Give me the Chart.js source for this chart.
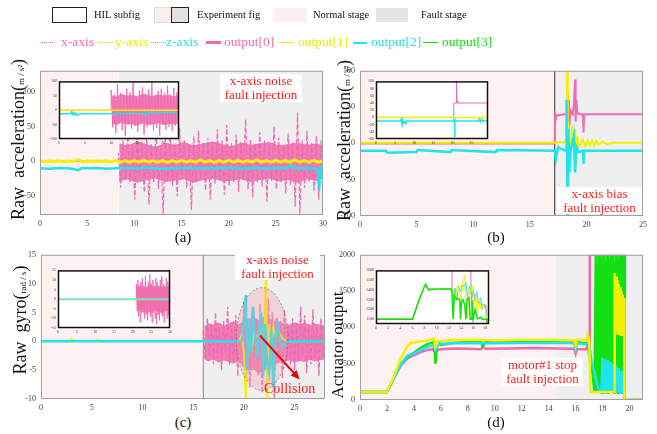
<!DOCTYPE html>
<html>
<head>
<meta charset="utf-8">
<script src="https://cdn.jsdelivr.net/npm/chart.js@4.4.1/dist/chart.umd.min.js"></script>
<style>
  body { margin: 0; background: #fff; }
  #page { position: relative; width: 657px; height: 434px; overflow: hidden; font-family: 'Liberation Serif', 'Times New Roman', serif; }
  canvas { position: absolute; }
  .lg { position: absolute; top: 7px; font-size: 10.5px; line-height: 16px; color: #111; white-space: nowrap; }
  .lg2 { position: absolute; top: 34px; font-size: 13.5px; line-height: 16px; white-space: nowrap; }
  .sw { position: absolute; box-sizing: border-box; }
  .smp { position: absolute; height: 0; }
  .note { position: absolute; background: #fff; color: #ff1a1a; font-size: 13px; line-height: 14px; text-align: center; white-space: nowrap; }
  .tag { position: absolute; width: 30px; font-size: 15px; line-height: 18px; text-align: center; color: #111; }
  .ytitle { position: absolute; height: 20px; font-size: 18px; line-height: 20px; text-align: center; white-space: nowrap; transform: rotate(-90deg); color: #111; }
  .ytitle small { font-size: 9px; }
</style>
</head>
<body>
<div id="page">
  <canvas id="chartA"></canvas>
  <canvas id="chartB"></canvas>
  <canvas id="chartC"></canvas>
  <canvas id="chartD"></canvas>
  <canvas id="insetA"></canvas>
  <canvas id="insetB"></canvas>
  <canvas id="insetC"></canvas>
  <canvas id="insetD"></canvas>

  <!-- legend, row 1 -->
  <div class="sw" style="left:52px;top:7px;width:35px;height:16px;border:1.5px solid #222;background:#fff"></div>
  <div class="lg" style="left:94px">HIL subfig</div>
  <div class="sw" style="left:154px;top:7px;width:18px;height:16px;border:1px solid #ddd;background:#fdeeee"></div>
  <div class="sw" style="left:171px;top:7px;width:18px;height:16px;border:1.5px solid #222;background:#e2e2e2"></div>
  <div class="lg" style="left:197px">Experiment fig</div>
  <div class="sw" style="left:274px;top:8px;width:33px;height:14px;background:#fdf0f0"></div>
  <div class="lg" style="left:313px">Normal stage</div>
  <div class="sw" style="left:376px;top:8px;width:32px;height:14px;background:#e4e4e4"></div>
  <div class="lg" style="left:421px">Fault stage</div>

  <!-- legend, row 2 -->
  <div class="smp" style="left:41px;top:42px;width:12px;border-top:1.5px dotted #f06aae"></div>
  <div class="lg2" style="left:61px;color:#f06aae">x-axis</div>
  <div class="smp" style="left:99px;top:42px;width:15px;border-top:1px dashed #eeea00"></div>
  <div class="lg2" style="left:115px;color:#eeea00">y-axis</div>
  <div class="smp" style="left:151px;top:42px;width:15px;border-top:1.5px dotted #1fe3ee"></div>
  <div class="lg2" style="left:166px;color:#1fe3ee">z-axis</div>
  <div class="smp" style="left:206px;top:41px;width:15px;border-top:3px solid #f06aae"></div>
  <div class="lg2" style="left:224px;color:#f06aae">output[0]</div>
  <div class="smp" style="left:279px;top:42px;width:15px;border-top:1.5px solid #eeea00"></div>
  <div class="lg2" style="left:298px;color:#eeea00">output[1]</div>
  <div class="smp" style="left:353px;top:42px;width:14px;border-top:2px solid #1fe3ee"></div>
  <div class="lg2" style="left:371px;color:#1fe3ee">output[2]</div>
  <div class="smp" style="left:423px;top:42px;width:15px;border-top:1.5px solid #12d812"></div>
  <div class="lg2" style="left:442px;color:#12d812">output[3]</div>

  <!-- axis titles -->
  <div class="ytitle" style="left:-62px;top:130px;width:160px">Raw&nbsp;&nbsp;acceleration(<small>m / s²</small>)</div>
  <div class="ytitle" style="left:264px;top:131px;width:160px">Raw&nbsp;&nbsp;acceleration(<small>m / s²</small>)</div>
  <div class="ytitle" style="left:-40px;top:310px;width:120px">Raw&nbsp;&nbsp;gyro(<small>rad / s</small>)</div>
  <div class="ytitle" style="left:278px;top:335px;width:120px;font-size:17px">Actuator output</div>

  <!-- fault notes -->
  <div class="note" style="left:220px;top:74px;width:82px;height:28px">x-axis noise<br>fault injection</div>
  <div class="note" style="left:557px;top:187px;width:85px;height:27px">x-axis bias<br>fault injection</div>
  <div class="note" style="left:235px;top:253px;width:85px;height:27px">x-axis noise<br>fault injection</div>
  <div class="note" style="left:502px;top:358px;width:81px;height:28px">motor#1 stop<br>fault injection</div>
  <div class="note" style="left:264px;top:382px;background:none;font-size:14px">Collision</div>

  <!-- sub-figure tags -->
  <div class="tag" style="left:168px;top:228px">(a)</div>
  <div class="tag" style="left:481px;top:228px">(b)</div>
  <div class="tag" style="left:168px;top:413px">(c)</div>
  <div class="tag" style="left:481px;top:413px">(d)</div>
</div>

<script>
// colours
const PINK = '#f06aae';
const PINK_CORE = 'rgba(240, 106, 174, 0.85)';
const YELLOW = '#f5f000';
const CYAN = '#1fe3ee';
const GREEN = '#12e012';
const MINT = '#7fe9b4';

// ---------- (a) raw acceleration, x-axis noise fault ----------
const aFaultStart = 8.3;
const aXQuietTime = [0, 8.3];
const aXQuiet = [0, 0];
// spikes of the noisy x-axis signal
const aXNoiseStart = 8.3, aXNoiseStep = 0.25;
const aXNoise = [12, -38, 30, -25, 42, -30, 22, -55, 35, -20,
  28, -45, 38, -62, 25, -30, 45, -40, 20, -76,
  32, -28, 40, -35, 26, -50, 48, -22, 30, -38,
  22, -70, 36, -30, 44, -25, 28, -42, 34, -55,
  24, -32, 46, -28, 30, -48, 52, -35, 26, -30,
  38, -44, 28, -26, 60, -40, 32, -52, 24, -30,
  42, -36, 30, -58, 26, -28, 50, -40, 34, -30,
  22, -46, 40, -34, 28, -65, 70, -76, 30, -38,
  44, -30, 26, -42, 36, -55, 30, -20];
// dense core band of the same signal (upper / lower edge, 1 s apart)
const aCoreTime = [8.4, 9.3, 10.3, 11.3, 12.3, 13.3, 14.3, 15.3, 16.3, 17.3, 18.3, 19.3, 20.3, 21.3, 22.3, 23.3, 24.3, 25.3, 26.3, 27.3, 28.3, 29.3, 30];
const aCoreHi = [25, 22, 28, 24, 20, 26, 23, 27, 22, 25, 28, 24, 21, 26, 23, 25, 27, 22, 24, 26, 23, 25, 22];
const aCoreLo = [-28, -25, -30, -26, -24, -29, -27, -25, -30, -26, -24, -28, -27, -25, -29, -26, -24, -28, -26, -30, -25, -27, -24];
const aYStart = 0, aYStep = 0.5;
const aY = [0.5, -0.3, 0.6, -0.3, 0.5, -0.5, 0.6, -0.3, 2.5, -0.5,
  0.6, 0, 0.6, -0.3, 0.6, -0.6, 1, -1.2, 1.2, -1,
  1.2, -1.2, 1.5, -1, 1.2, -1.2, 1, -1.5, 1.2, -1,
  1.5, -1.2, 1.2, -1, 2, -1.2, 1.2, -1.5, 1.2, -1,
  1.5, -1.2, 1, -1.2, 1.2, -1, 2, -1.2, 1.2, -1.2,
  1.5, -1, 1.2, -1.2, 2.5, -1.2, 1.2, -1, 1.5, -1.2, 0.6];
const aZTime = [0, 1, 2, 3, 3.6, 4, 4.4, 5, 6, 7, 8, 9, 10, 11, 12, 13, 14, 15, 16, 17, 18, 19, 20, 21, 22, 23, 24, 25, 26, 26.6, 27, 28, 29, 29.5, 29.6, 29.7, 29.8, 30];
const aZ = [-10, -10.5, -9.5, -10, -11, -13, -10, -10, -9.5, -10.5, -10, -9, -10.5, -9, -10, -11, -9.5, -10, -9, -10.5, -9.5, -10, -9, -10.5, -10, -9, -10.5, -9.5, -10, -6, -10, -9.5, -10, -12, -40, -15, -8, -9];

// (a) inset, HIL run
const aInYTime = [0, 23];
const aInY = [0, 0];
const aInZTime = [0, 2.2, 2.4, 2.6, 2.8, 3.0, 3.2, 3.5, 3.8, 4.2, 10, 10.6, 11, 16.4, 16.6, 17, 23];
const aInZ = [-12, -12, -6, -14, -7, -16, -10, -18, -14, -12, -12, -16, -11, -12, -20, -8, -8];
const aInXQuietTime = [0, 10];
const aInXQuiet = [0, 0];
const aInXNoiseStart = 10, aInXNoiseStep = 0.3;
const aInXNoise = [70, -60, 55, -80, 90, -45, 60, -70, 48, -90,
  75, -50, 62, -65, 100, -55, 50, -75, 68, -48,
  80, -85, 58, -60, 72, -52, 95, -70, 52, -62,
  66, -88, 74, -50, 60, -68, 85, -58, 54, -72,
  78, -55, 62, -40];
const aInCoreTime = [10.1, 11, 12, 13, 14, 15, 16, 17, 18, 19, 20, 21, 22, 23];
const aInCoreHi = [50, 45, 55, 48, 52, 46, 55, 50, 47, 53, 49, 51, 46, 50];
const aInCoreLo = [-45, -50, -42, -48, -46, -52, -44, -49, -47, -43, -50, -46, -48, -44];

// ---------- (b) raw acceleration, x-axis bias fault ----------
const bFaultStart = 17.2;
const bXTime = [0, 17.2, 17.25, 17.3, 18.0, 18.3, 18.35, 18.4, 18.45, 18.5, 18.6, 18.8, 18.9, 19.0, 19.05, 19.1, 19.2, 19.4, 19.7, 19.75, 19.8, 25];
const bX = [0, 0, 40, 38, 40, 40, 70, 15, 60, 25, 45, 40, 55, 88, 30, 60, 42, 40, 40, 15, 40, 40];
const bYTime = [0, 17.2, 17.5, 18.0, 18.25, 18.3, 18.35, 18.4, 18.5, 18.7, 18.8, 18.9, 19.0, 19.1, 19.2, 19.3, 19.5, 19.7, 19.9, 20.1, 20.3, 20.5, 20.7, 20.9, 21.1, 21.4, 21.8, 22.3, 25];
const bY = [1, 1, 2, 1, 5, 100, -50, 30, -20, 15, 25, -10, 20, -30, 10, -5, 0, 5, -4, 4, -3, 4, -3, 3, -2, 2, -1, 1, 1];
const bZTime = [0, 2.3, 2.4, 5, 5.1, 8, 8.1, 12, 12.1, 17.2, 17.3, 17.5, 17.8, 18.2, 18.25, 18.3, 18.35, 18.4, 18.5, 18.6, 18.9, 19.0, 19.1, 19.3, 19.7, 19.75, 19.8, 20.5, 25];
const bZ = [-10, -10, -13, -12, -9, -12, -9, -12, -9, -10, -22, -5, -8, -10, 60, -20, -100, 20, -40, -10, 10, -40, -5, -12, -10, -28, -10, -10, -10];

// (b) inset
const bInYTime = [0, 29.3];
const bInY = [0, 0];
const bInZTime = [0, 6.4, 6.6, 6.8, 7.0, 7.2, 7.5, 7.8, 8.0, 20.4, 20.5, 20.6, 20.65, 20.7, 20.8, 26.8, 27, 27.3, 27.6, 28, 28.3, 29.3];
const bInZ = [-10, -10, -4, -14, -6, -16, -12, -18, -10, -10, -2, -55, -10, -10, -10, -10, -5, -12, -5, -12, -8, -10];
const bInXTime = [0, 20.3, 20.35, 21.0, 21.05, 21.2, 21.4, 29.3];
const bInX = [0, 0, 40, 40, 100, 45, 40, 40];

// ---------- (c) raw gyro, x-axis noise fault + collision ----------
const cFaultStart = 16;
const cXQuietTime = [0, 16];
const cXQuiet = [0, 0];
const cXNoiseStart = 16, cXNoiseStep = 0.2;
const cXNoise = [2, -3, 4, -2.5, 3, -4, 5, -3, 2.5, -5,
  3.5, -2, 6, -4, 3, -3.5, 4.5, -6, 2.5, -3,
  7, -4.5, 3, -8, 5, -3, 4, -6, 6.5, -9,
  3, -5, 7.5, -4, 5, -10, 4, -3, 3.5, -6.5,
  5.5, -3, 2.5, -4, 4, -5, 3, -3.5, 6, -2.5,
  4.5, -5.5, 3, -4, 5.5, -3, 2.5, -6, 4, -3, 2];
const cCoreTime = [16.1, 16.5, 17, 17.5, 18, 18.5, 19, 19.5, 20, 20.5, 21, 21.5, 22, 22.5, 23, 23.5, 24, 24.5, 25, 25.5, 26, 26.5, 27, 27.5, 28];
const cCoreHi = [2.5, 3, 2.8, 3.2, 2.6, 3, 3.4, 2.8, 3.5, 3.8, 4, 3.6, 4.2, 3.8, 3.5, 3.2, 3, 2.8, 3.2, 2.9, 3.1, 2.7, 3, 2.8, 2.6];
const cCoreLo = [-3, -3.4, -3, -3.6, -3.2, -3.5, -3.8, -3.3, -4.5, -5, -4.8, -5.5, -5, -4.6, -4, -3.6, -3.4, -3.2, -3.6, -3.3, -3.5, -3.1, -3.4, -3.2, -3];
const cYTime = [0, 2.8, 3.0, 3.2, 5.4, 5.6, 5.8, 19.5, 19.8, 20.0, 20.2, 20.4, 20.6, 20.8, 21.0, 21.2, 21.4, 21.6, 21.8, 22.0, 22.2, 22.3, 22.5, 22.7, 22.9, 23.1, 23.3, 23.5, 23.8, 24.2, 28];
const cY = [0, 0, 0.4, 0, 0, 0.3, 0, 0, 1.2, -2, -10, 2, 0.5, -1, 1.5, 0.8, 1, 2.5, 0.5, -1.5, 15, -10, 3, -1, 2.5, 0.5, 2, 1.5, 0.5, 0, 0];
const cZTime = [0, 19.8, 20.0, 20.2, 20.3, 20.5, 20.7, 20.9, 21.1, 21.3, 21.5, 21.7, 21.9, 22.1, 22.3, 22.5, 22.7, 22.9, 23.1, 23.3, 23.5, 23.8, 24.2, 28];
const cZ = [0, 0, 3, 8, -5, 4, -2, 6, 1, -3, 2, 5, -6, 3, -4, -5.5, 2, -8, 1, 3, 0.5, -1, 0, 0];
const collisionZone = { x: 21.8, y: 0.4, rx: 2.55, ry: 8.9 };
const collisionArrow = { from: [21.6, 1.0], to: [25.5, -6.6] };

// (c) inset
const cInYZTime = [0, 30];
const cInYZ = [0, 0];
const cInXQuietTime = [0, 21];
const cInXQuiet = [0, 0];
const cInXNoiseStart = 21, cInXNoiseStep = 0.2;
const cInXNoise = [8, -6, 10, -9, 6, -12, 9, -7, 11, -5,
  7, -10, 12, -8, 6, -11, 9, -6, 13, -9,
  8, -12, 10, -7, 7, -10, 11, -13, 9, -8,
  6, -11, 10, -7, 12, -9, 8, -12, 7, -6,
  11, -10, 9, -8, 7, -11];
const cInCoreTime = [21.1, 22, 23, 24, 25, 26, 27, 28, 29, 30];
const cInCoreHi = [6, 7, 5.5, 6.5, 7, 6, 6.8, 5.8, 6.2, 6];
const cInCoreLo = [-6, -5.5, -7, -6.2, -6.8, -5.8, -6.5, -7, -6, -6.4];

// ---------- (d) actuator outputs, motor#1 stop ----------
const dFaultStart = 14.5;
const d0Time = [0, 2, 2.5, 3, 3.5, 4, 4.5, 5, 5.4, 5.6, 5.8, 6, 7, 8, 9, 9.1, 9.3, 11, 13, 14.5, 15.9, 16, 16.1, 16.8, 16.9, 17.0, 17.05, 19.6, 19.62, 21];
const d0 = [110, 110, 290, 470, 570, 620, 660, 690, 700, 650, 690, 700, 710, 705, 700, 740, 705, 710, 715, 710, 705, 640, 700, 700, 760, 700, 2000, 2000, 0, 0];
const d1Time = [0, 2, 2.5, 3, 3.5, 3.8, 4.2, 5, 5.5, 5.6, 5.8, 6, 7, 8, 9, 10, 12, 14, 15.9, 16, 16.1, 16.8, 16.9, 17.0, 17.1, 18.85,
  18.9, 18.95, 19.0, 19.05, 19.1, 19.15, 19.2, 19.25, 19.3, 19.35, 19.4, 19.45, 19.5, 19.55, 19.6, 19.62, 21];
const d1 = [110, 110, 320, 560, 740, 790, 800, 820, 850, 730, 820, 810, 830, 825, 830, 820, 830, 830, 820, 750, 830, 820, 900, 820, 110, 110,
  1750, 900, 1700, 950, 1650, 920, 1600, 900, 1550, 880, 1500, 900, 1450, 880, 1400, 0, 0];
const d2Time = [0, 2, 2.5, 3, 3.5, 4, 4.5, 5, 5.5, 5.6, 5.8, 6, 7, 8, 9, 10, 12, 14, 15.9, 16, 16.1, 16.8, 16.9, 17.0, 17.2, 17.4, 17.6, 17.8];
const d2 = [110, 110, 300, 480, 610, 640, 690, 730, 760, 690, 760, 770, 780, 780, 785, 780, 785, 790, 785, 700, 780, 770, 820, 780, 500, 380, 200, 110];
const d2BurstStart = 17.9, d2BurstStep = 0.1;
const d2Burst = [100, 580, 100, 560, 100, 550, 100, 520, 100, 500, 100, 470, 100, 440, 100, 400, 100];
const d2TailTime = [19.6, 19.62, 21];
const d2Tail = [100, 0, 0];
const d3Time = [0, 2, 2.5, 3, 3.5, 4, 4.5, 5, 5.5, 5.6, 5.7, 5.8, 6, 7, 8, 9, 9.1, 9.3, 10, 12, 14, 15.9, 16, 16.1, 16.8, 16.9, 17.0, 17.2, 17.4];
const d3 = [110, 110, 300, 490, 590, 650, 720, 770, 800, 500, 760, 790, 760, 790, 800, 795, 740, 795, 800, 805, 800, 800, 710, 800, 780, 830, 620, 450, 110];
const d3BurstStart = 17.5, d3BurstStep = 0.05;
const d3Burst = [2000, 100, 1900, 100, 2000, 150, 2000, 100, 1950, 100,
  2000, 100, 2000, 120, 1900, 100, 2000, 100, 2000, 100,
  1950, 100, 2000, 100, 2000, 130, 2000, 100, 1900, 100,
  2000, 100, 2000, 100, 1950, 100, 2000, 100, 2000, 100,
  2000, 100];
const d3TailTime = [19.6, 19.65, 21];
const d3Tail = [2000, 0, 0];

// (d) inset
const dIn0Time = [0, 6, 7, 8, 8.2, 8.6, 12.4, 12.5, 15.6, 15.7, 16.0, 16.3, 16.6, 17.0, 17.4, 18.1, 18.2, 18.6];
const dIn0 = [1100, 1100, 1280, 1440, 1460, 1400, 1410, 1600, 1600, 1300, 1380, 1320, 1280, 1260, 1250, 1240, 1100, 1100];
const dIn1Time = [0, 6, 7, 8, 8.2, 8.6, 12.4, 12.5, 12.7, 12.9, 13.1, 13.4, 13.7, 14.0, 14.3, 14.6, 14.8, 15.1, 15.3, 15.6, 15.9, 16.1, 16.4, 16.7, 17.0, 17.3, 17.6, 18.0, 18.2, 18.6];
const dIn1 = [1100, 1100, 1290, 1440, 1460, 1400, 1410, 1400, 1110, 1380, 1320, 1450, 1400, 1300, 1480, 1550, 1250, 1100, 1420, 1380, 1450, 1250, 1350, 1150, 1300, 1200, 1250, 1200, 1100, 1100];
const dIn2Time = [0, 6, 7, 8, 8.2, 8.6, 12.4, 12.6, 12.8, 13.0, 13.3, 13.6, 13.9, 14.2, 14.5, 14.8, 15.1, 15.4, 15.7, 16.0, 16.3, 16.6, 16.9, 17.2, 17.5, 17.8, 18.1, 18.2, 18.6];
const dIn2 = [1100, 1100, 1280, 1440, 1460, 1400, 1410, 1400, 1250, 1420, 1300, 1440, 1380, 1460, 1430, 1480, 1300, 1440, 1350, 1400, 1300, 1380, 1250, 1320, 1200, 1250, 1200, 1100, 1100];
const dIn3Time = [0, 6, 7, 8, 8.2, 8.6, 9, 12.4, 12.5, 12.7, 12.9, 13.1, 13.3, 13.5, 13.8, 13.9, 14.1, 14.3, 14.6, 14.8, 15.0, 15.3, 15.5, 15.7, 15.8, 16.0, 16.3, 16.5, 16.7, 17.2, 17.5, 18.2, 18.3, 18.6];
const dIn3 = [1100, 1100, 1280, 1440, 1460, 1400, 1410, 1410, 1380, 1100, 1350, 1320, 1300, 1310, 1300, 1100, 1280, 1300, 1250, 1100, 1300, 1320, 1100, 1100, 1300, 1100, 1200, 1150, 1100, 1120, 1100, 1100, 1050, 1050];

// ---------- helpers ----------
function pairs(xs, ys) {
  return xs.map((x, i) => ({ x: x, y: ys[i] }));
}
function sampled(t0, dt, ys) {
  return ys.map((y, i) => ({ x: +(t0 + i * dt).toFixed(3), y: y }));
}
function line(data, color, width, dash) {
  return { data: data, borderColor: color, borderWidth: width, borderDash: dash || [], pointRadius: 0, tension: 0, fill: false };
}
// two datasets: upper edge filled down to the lower edge
function band(xs, hi, lo, color) {
  return [
    { data: pairs(xs, hi), borderColor: color, backgroundColor: color, borderWidth: 1, pointRadius: 0, tension: 0, fill: '+1' },
    { data: pairs(xs, lo), borderColor: color, borderWidth: 1, pointRadius: 0, tension: 0, fill: false }
  ];
}

// stage shading, white inset background and frame
const stagePlugin = {
  id: 'stageBands',
  beforeDatasetsDraw(chart, args, opts) {
    const ctx = chart.ctx, a = chart.chartArea;
    ctx.save();
    if (opts.inset) {
      ctx.fillStyle = '#fff';
      ctx.fillRect(a.left, a.top, a.width, a.height);
    } else {
      const xs = chart.scales.x.getPixelForValue(opts.split);
      ctx.fillStyle = '#fdf1f1';
      ctx.fillRect(a.left, a.top, xs - a.left, a.height);
      ctx.fillStyle = '#efefef';
      ctx.fillRect(xs, a.top, a.right - xs, a.height);
      if (opts.edge) {
        ctx.strokeStyle = opts.edge;
        ctx.lineWidth = 1;
        ctx.beginPath();
        ctx.moveTo(xs, a.top);
        ctx.lineTo(xs, a.bottom);
        ctx.stroke();
      }
    }
    ctx.restore();
  },
  afterDraw(chart, args, opts) {
    const ctx = chart.ctx, a = chart.chartArea;
    ctx.save();
    ctx.strokeStyle = opts.inset ? '#111' : '#a0a0a0';
    ctx.lineWidth = opts.inset ? 1.5 : 1;
    ctx.strokeRect(a.left + 0.5, a.top + 0.5, a.width - 1, a.height - 1);
    ctx.restore();
  }
};
Chart.register(stagePlugin);

// collision ellipse and arrow on (c)
const collisionPlugin = {
  id: 'collision',
  afterDatasetsDraw(chart) {
    const ctx = chart.ctx, x = chart.scales.x, y = chart.scales.y;
    const cx = x.getPixelForValue(collisionZone.x), cy = y.getPixelForValue(collisionZone.y);
    const rx = x.getPixelForValue(collisionZone.x + collisionZone.rx) - cx;
    const ry = cy - y.getPixelForValue(collisionZone.y + collisionZone.ry);
    ctx.save();
    ctx.beginPath();
    ctx.ellipse(cx, cy, rx, ry, 0, 0, Math.PI * 2);
    ctx.fillStyle = 'rgba(238, 160, 175, 0.35)';
    ctx.fill();
    ctx.setLineDash([2, 2]);
    ctx.strokeStyle = '#777';
    ctx.lineWidth = 0.8;
    ctx.stroke();
    ctx.setLineDash([]);
    const x1 = x.getPixelForValue(collisionArrow.from[0]), y1 = y.getPixelForValue(collisionArrow.from[1]);
    const x2 = x.getPixelForValue(collisionArrow.to[0]), y2 = y.getPixelForValue(collisionArrow.to[1]);
    const ang = Math.atan2(y2 - y1, x2 - x1);
    ctx.strokeStyle = '#e8000b';
    ctx.fillStyle = '#e8000b';
    ctx.lineWidth = 2;
    ctx.beginPath();
    ctx.moveTo(x1, y1);
    ctx.lineTo(x2 - 6 * Math.cos(ang), y2 - 6 * Math.sin(ang));
    ctx.stroke();
    ctx.beginPath();
    ctx.moveTo(x2, y2);
    ctx.lineTo(x2 - 9 * Math.cos(ang) + 4 * Math.sin(ang), y2 - 9 * Math.sin(ang) - 4 * Math.cos(ang));
    ctx.lineTo(x2 - 9 * Math.cos(ang) - 4 * Math.sin(ang), y2 - 9 * Math.sin(ang) + 4 * Math.cos(ang));
    ctx.closePath();
    ctx.fill();
    ctx.restore();
  }
};

function axis(kind, r, size, font) {
  return {
    type: 'linear',
    min: r[0],
    max: r[1],
    grid: { display: false, drawTicks: false },
    border: { display: false },
    ticks: {
      stepSize: r[2],
      includeBounds: false,
      autoSkip: false,
      maxRotation: 0,
      padding: kind === 'x' ? (font > 5 ? 4 : 2) : (font > 5 ? 5 : 2),
      color: '#444',
      font: { family: 'Liberation Serif', size: font },
      callback: v => String(v)
    },
    afterBuildTicks(s) {
      s.ticks = s.ticks.filter(t => Math.abs(t.value / r[2] - Math.round(t.value / r[2])) < 1e-6);
    },
    afterFit(s) {
      if (kind === 'x') s.height = size; else s.width = size;
    }
  };
}

// box = [left, top, right, bottom] of the plot area in page pixels
function makeChart(id, box, cfg) {
  const c = document.getElementById(id);
  const inset = !!cfg.inset;
  const yW = inset ? 12 : 26, xH = inset ? 7 : 14, padT = inset ? 3 : 6, padR = inset ? 4 : 10;
  const font = inset ? 4 : 8;
  c.width = box[2] - box[0] + yW + padR;
  c.height = box[3] - box[1] + padT + xH;
  c.style.left = (box[0] - yW) + 'px';
  c.style.top = (box[1] - padT) + 'px';
  return new Chart(c, {
    type: 'line',
    data: { datasets: cfg.datasets },
    plugins: cfg.plugins || [],
    options: {
      responsive: false,
      animation: false,
      devicePixelRatio: 1,
      layout: { padding: { left: 0, top: padT, right: padR, bottom: 0 } },
      plugins: {
        legend: { display: false },
        tooltip: { enabled: false },
        stageBands: { inset: inset, split: cfg.split, edge: cfg.edge }
      },
      scales: {
        x: axis('x', cfg.x, xH, font),
        y: axis('y', cfg.y, yW, font)
      }
    }
  });
}

// ---------- main panels ----------
makeChart('chartA', [40, 67, 323, 215], {
  x: [0, 30, 5], y: [-77, 130, 50], split: aFaultStart, edge: '#ffffff',
  datasets: [
    line(pairs(aZTime, aZ), CYAN, 2.5),
    line(sampled(aYStart, aYStep, aY), YELLOW, 3),
    line(pairs(aXQuietTime, aXQuiet).concat(sampled(aXNoiseStart, aXNoiseStep, aXNoise)), PINK, 1.2, [5, 2])
  ].concat(band(aCoreTime, aCoreHi, aCoreLo, PINK_CORE))
});

makeChart('chartB', [360, 67, 643, 216], {
  x: [0, 25, 5], y: [-100, 100, 50], split: bFaultStart, edge: '#333333',
  datasets: [
    line(pairs(bZTime, bZ), CYAN, 2.5),
    line(pairs(bYTime, bY), YELLOW, 2),
    line(pairs(bXTime, bX), PINK, 2)
  ]
});

makeChart('chartC', [41, 251, 325, 399], {
  x: [0, 28, 5], y: [-10, 15, 5], split: cFaultStart, edge: '#888888',
  plugins: [collisionPlugin],
  datasets: [
    line(pairs(cZTime, cZ), CYAN, 2.5),
    line(pairs(cYTime, cY), YELLOW, 2),
    line(pairs(cXQuietTime, cXQuiet).concat(sampled(cXNoiseStart, cXNoiseStep, cXNoise)), PINK, 1.3, [5, 2])
  ].concat(band(cCoreTime, cCoreHi, cCoreLo, PINK_CORE))
});

makeChart('chartD', [360, 251, 643, 400], {
  x: [0, 21, 2], y: [0, 2000, 500], split: dFaultStart,
  datasets: [
    line(pairs(d1Time, d1), YELLOW, 2.5),
    line(pairs(d2Time, d2).concat(sampled(d2BurstStart, d2BurstStep, d2Burst), pairs(d2TailTime, d2Tail)), CYAN, 2.5),
    line(pairs(d3Time, d3).concat(sampled(d3BurstStart, d3BurstStep, d3Burst), pairs(d3TailTime, d3Tail)), GREEN, 2.5),
    line(pairs(d0Time, d0), PINK, 2.5)
  ]
});

// ---------- HIL insets ----------
makeChart('insetA', [59, 80, 179, 139], {
  inset: true, x: [0, 23, 5], y: [-100, 100, 50],
  datasets: [
    line(pairs(aInYTime, aInY), YELLOW, 1.5),
    line(pairs(aInZTime, aInZ), CYAN, 1.5),
    line(pairs(aInXQuietTime, aInXQuiet).concat(sampled(aInXNoiseStart, aInXNoiseStep, aInXNoise)), PINK, 0.9)
  ].concat(band(aInCoreTime, aInCoreHi, aInCoreLo, PINK_CORE))
});

makeChart('insetB', [376, 80, 488, 139], {
  inset: true, x: [0, 29.3, 5], y: [-60, 100, 20],
  datasets: [
    line(pairs(bInYTime, bInY), YELLOW, 1.5),
    line(pairs(bInZTime, bInZ), CYAN, 1.5),
    line(pairs(bInXTime, bInX), PINK, 1)
  ]
});

makeChart('insetC', [58, 269, 170, 328], {
  inset: true, x: [0, 30, 5], y: [-15, 15, 5],
  datasets: [
    line(pairs(cInYZTime, cInYZ), MINT, 2),
    line(pairs(cInXQuietTime, cInXQuiet).concat(sampled(cInXNoiseStart, cInXNoiseStep, cInXNoise)), PINK, 0.9)
  ].concat(band(cInCoreTime, cInCoreHi, cInCoreLo, PINK_CORE))
});

makeChart('insetD', [376, 269, 489, 324], {
  inset: true, x: [0, 18.6, 2], y: [1050, 1600, 100],
  datasets: [
    line(pairs(dIn3Time, dIn3), GREEN, 1.5),
    line(pairs(dIn1Time, dIn1), YELLOW, 1),
    line(pairs(dIn2Time, dIn2), CYAN, 1),
    line(pairs(dIn0Time, dIn0), PINK, 1)
  ]
});
</script>
</body>
</html>
